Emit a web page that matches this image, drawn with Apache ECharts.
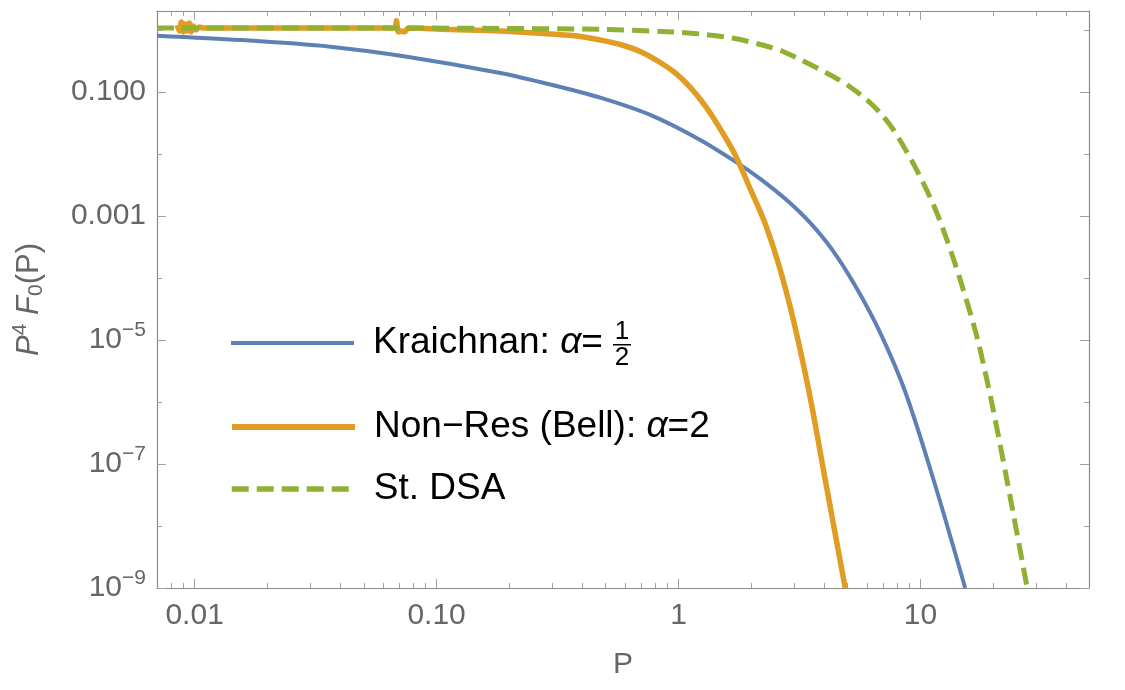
<!DOCTYPE html>
<html>
<head>
<meta charset="utf-8">
<title>P^4 F0(P)</title>
<script src="https://cdn.jsdelivr.net/npm/echarts@6/dist/echarts.min.js"></script>
<style>
	html, body { margin: 0; padding: 0; background: #fff; }
	#chart { width: 1125px; height: 690px; }
</style>
</head>
<body>
<div id="chart"></div>
<script>
// values (P, P^4 F0)
var kraichnanP = [0.00699, 0.01545, 0.03636, 0.0754, 0.1834, 0.295, 0.4747, 0.7638, 1.229, 1.743,
	2.176, 2.805, 3.501, 4.305, 5.373, 6.816, 8.646, 11.32, 15.30];
var kraichnanF = [0.808, 0.688, 0.537, 0.3704, 0.2023, 0.132, 0.0809, 0.04256, 0.01683, 0.00725,
	0.003958, 0.001788, 7.73e-4, 2.89e-4, 7.46e-5, 1.303e-5, 1.459e-6, 5.57e-8, 1e-9];

// Bell curve, with the numerical jitter at the low-P end
var bellP = [0.00848, 0.00865, 0.00881, 0.00898, 0.00916, 0.00933, 0.00951, 0.00969, 0.00988, 0.01016, 0.01045, 0.01086,
	0.02734, 0.0668, 0.0682, 0.0695, 0.0715, 0.0736, 0.0765, 0.1139, 0.1834, 0.295, 0.3925, 0.4747, 0.574, 0.694,
	0.840, 0.969, 1.118, 1.289, 1.487, 1.715, 1.978, 2.282, 2.632, 3.035, 3.501, 4.039, 4.885];
var bellF = [1.20, 0.96, 1.34, 0.93, 1.25, 0.96, 1.29, 0.93, 1.16, 1.00, 1.12, 1.075,
	1.075, 1.075, 1.40, 0.93, 0.96, 0.93, 1.07, 1.016, 0.961, 0.860, 0.784, 0.688, 0.582, 0.449,
	0.2986, 0.2023, 0.1181, 0.0594, 0.0253, 0.00964, 0.00273, 7.45e-4, 1.351e-4, 1.569e-5, 1.168e-6, 5.57e-8, 1e-9];

var dsaP = [0.0070, 0.0708, 0.1834, 0.4747, 0.8954, 1.229, 1.688, 2.176, 2.716, 4.370, 5.123, 6.005, 6.816, 7.734,
	9.357, 11.32, 12.86, 14.59, 17.15, 19.78, 22.75, 27.60];
var dsaF = [1.075, 1.075, 1.055, 1.024, 0.937, 0.860, 0.733, 0.582, 0.446, 0.1763, 0.1203, 0.0743, 0.0458, 0.02438,
	0.0069, 0.001508, 4.11e-4, 9.32e-5, 1.083e-5, 9.0e-7, 5.57e-8, 1e-9];

var seriesNames = ['Kraichnan', 'Non-Res (Bell)', 'St. DSA'];
var legendLabels = ['Kraichnan: {i|α}=', 'Non−Res (Bell): {i|α}=2', 'St. DSA'];

// axes
var xRange = [0.00699, 49.7];
var yRange = [1e-9, 2.02];
var xTicks = [0.01, 0.1, 1, 10];
var xTickLabels = ['0.01', '0.10', '1', '10'];
var xMinorTicks = [0.008, 0.009, 0.02, 0.03, 0.04, 0.05, 0.06, 0.07, 0.08, 0.09,
	0.2, 0.3, 0.4, 0.5, 0.6, 0.7, 0.8, 0.9, 2, 3, 4, 5, 6, 7, 8, 9, 20, 30, 40];
var yTicks = [0.1, 0.001, 1e-5, 1e-7, 1e-9];
var yTickLabels = ['0.100', '0.001', '10{sup|−5}', '10{sup|−7}', '10{sup|−9}'];
var yMinorTicks = [1, 0.01, 1e-4, 1e-6, 1e-8];

var colors = ['#5E81B5', '#E19C24', '#8FB032'];
var font = "'Liberation Sans', Arial, sans-serif";
var frameColor = '#8a8a8a';
var tickColor = '#a0a0a0';
var labelColor = '#666';

var lg = Math.log10;

function pts(xs, ys) {
	return xs.map(function (p, i) { return [lg(p), lg(ys[i])]; });
}

function pick(values, labels) {
	return function (v) {
		for (var i = 0; i < values.length; i++) {
			if (Math.abs(lg(values[i]) - v) < 1e-6) return labels[i];
		}
		return '';
	};
}

// one frame side: ticks pointing inwards, no grid lines
function frameAxis(range, position, ticks, len, showLine) {
	return {
		type: 'value',
		position: position,
		min: lg(range[0]),
		max: lg(range[1]),
		axisLine: { show: showLine, onZero: false, lineStyle: { color: frameColor, width: 1.2 } },
		axisTick: { show: true, inside: true, length: len, customValues: ticks.map(lg), lineStyle: { color: tickColor, width: 1 } },
		axisLabel: { show: false },
		splitLine: { show: false }
	};
}

var xBottom = frameAxis(xRange, 'bottom', xTicks, 9, true);
xBottom.axisLabel = {
	show: true,
	customValues: xTicks.map(lg),
	formatter: pick(xTicks, xTickLabels),
	margin: 13,
	color: labelColor,
	fontFamily: font,
	fontSize: 30
};
xBottom.name = 'P';
xBottom.nameLocation = 'middle';
xBottom.nameGap = 62;
xBottom.nameTextStyle = { color: labelColor, fontFamily: font, fontSize: 30 };

var yLeft = frameAxis(yRange, 'left', yTicks, 9, true);
yLeft.axisLabel = {
	show: true,
	customValues: yTicks.map(lg),
	formatter: pick(yTicks, yTickLabels),
	margin: 11,
	color: labelColor,
	fontFamily: font,
	fontSize: 30,
	rich: {
		sup: { fontSize: 21, color: labelColor, fontFamily: font, padding: [0, 0, 20, 0] }
	}
};
yLeft.name = '{i|P}{sup|4}{i| F}{sub|0}(P)';
yLeft.nameLocation = 'middle';
yLeft.nameRotate = 90;
yLeft.nameGap = 108;
yLeft.nameTextStyle = {
	color: labelColor, fontFamily: font, fontSize: 31,
	rich: {
		i: { fontStyle: 'italic', color: labelColor, fontFamily: font, fontSize: 31 },
		sup: { color: labelColor, fontFamily: font, fontSize: 21, padding: [0, 0, 18, 0] },
		sub: { color: labelColor, fontFamily: font, fontSize: 21, padding: [14, 0, 0, 0] }
	}
};

var legendTops = [321, 405, 467];
var lineWidths = [4, 5.5, 5];
var legends = seriesNames.map(function (n, i) {
	return {
		data: [n],
		top: legendTops[i],
		left: 229,
		orient: 'vertical',
		padding: 0,
		itemWidth: 123,
		itemHeight: 44,
		selectedMode: false,
		itemStyle: { opacity: 0 },
		lineStyle: { width: i === 1 ? 6 : (i === 2 ? 5.5 : 4) },
		formatter: function () { return legendLabels[i]; },
		textStyle: {
			color: '#000', fontFamily: font, fontSize: 37, lineHeight: 44, padding: [0, 0, 0, 14],
			rich: { i: { fontStyle: 'italic', color: '#000', fontFamily: font, fontSize: 37 } }
		}
	};
});

var dataSets = [pts(kraichnanP, kraichnanF), pts(bellP, bellF), pts(dsaP, dsaF)];
var series = seriesNames.map(function (n, i) {
	return {
		name: n,
		type: 'line',
		xAxisIndex: 0,
		yAxisIndex: 0,
		data: dataSets[i],
		symbol: 'none',
		showSymbol: false,
		smooth: 0.3,
		itemStyle: { color: colors[i] },
		lineStyle: { color: colors[i], width: lineWidths[i], type: i === 2 ? [17, 8] : 'solid' }
	};
});

var option = {
	backgroundColor: '#fff',
	animation: false,
	grid: { left: 157, right: 36, top: 11, bottom: 102, outerBoundsMode: 'none' },
	xAxis: [
		xBottom,
		frameAxis(xRange, 'bottom', xMinorTicks, 5, false),
		frameAxis(xRange, 'top', xTicks, 9, true),
		frameAxis(xRange, 'top', xMinorTicks, 5, false)
	],
	yAxis: [
		yLeft,
		frameAxis(yRange, 'left', yMinorTicks, 5, false),
		frameAxis(yRange, 'right', yTicks, 9, true),
		frameAxis(yRange, 'right', yMinorTicks, 5, false)
	],
	legend: legends,
	// stacked 1/2 after "Kraichnan: α="
	graphic: [
		{ type: 'text', x: 622, y: 332, style: { text: '1', fill: '#000', font: '26px ' + font, align: 'center', verticalAlign: 'middle' } },
		{ type: 'rect', shape: { x: 613, y: 344, width: 18, height: 1.5 }, style: { fill: '#000' } },
		{ type: 'text', x: 622, y: 358, style: { text: '2', fill: '#000', font: '26px ' + font, align: 'center', verticalAlign: 'middle' } }
	],
	series: series
};

var myChart = echarts.init(document.getElementById('chart'));
myChart.setOption(option);
window.onresize = myChart.resize;
</script>
</body>
</html>
